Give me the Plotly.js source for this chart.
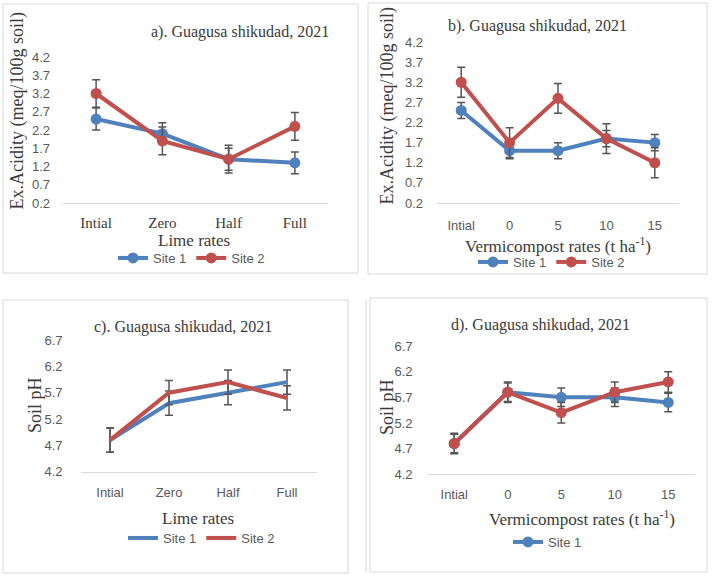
<!DOCTYPE html>
<html>
<head>
<meta charset="utf-8">
<script src="https://cdn.plot.ly/plotly-3.0.1.min.js"></script>
<style>html,body{margin:0;padding:0;background:#fff;}#chart{width:714px;height:576px;}</style>
</head>
<body>
<div id="chart"></div>
<script>
// ---- Data ----
var limeRates = ['Intial', 'Zero', 'Half', 'Full'];
var vermiRates = ['Intial', '0', '5', '10', '15'];

var acidLimeSite1 = [2.5, 2.1, 1.4, 1.3];
var acidLimeSite1Err = [0.3, 0.3, 0.3, 0.3];
var acidLimeSite2 = [3.2, 1.9, 1.4, 2.3];
var acidLimeSite2Err = [0.38, 0.38, 0.38, 0.38];

var acidVermiSite1 = [2.5, 1.5, 1.5, 1.8, 1.7];
var acidVermiSite1Err = [0.2, 0.2, 0.2, 0.2, 0.2];
var acidVermiSite2 = [3.2, 1.7, 2.8, 1.8, 1.2];
var acidVermiSite2Err = [0.37, 0.37, 0.37, 0.37, 0.37];

var phLimeSite1 = [4.8, 5.5, 5.7, 5.9];
var phLimeSite1Err = [0.23, 0.23, 0.23, 0.23];
var phLimeSite2 = [4.8, 5.7, 5.9, 5.6];
var phLimeSite2Err = [0.23, 0.23, 0.23, 0.23];

var phVermiSite1 = [4.8, 5.8, 5.7, 5.7, 5.6];
var phVermiSite1Err = [0.18, 0.18, 0.18, 0.18, 0.18];
var phVermiSite2 = [4.8, 5.8, 5.4, 5.8, 6.0];
var phVermiSite2Err = [0.2, 0.2, 0.2, 0.2, 0.2];

var acidTicks = ['0.2', '0.7', '1.2', '1.7', '2.2', '2.7', '3.2', '3.7', '4.2'];
var phTicks = ['4.2', '4.7', '5.2', '5.7', '6.2', '6.7'];

// ---- Styling ----
var W = 714, H = 576;
var BLUE = '#4F81BD', RED = '#C0504D', ERR = '#555555';
var SANS = 'Liberation Sans, Arial, sans-serif';
var SERIF = 'Liberation Serif, Times New Roman, serif';
var TXT = '#3a3a3a', TICK = '#595959';

function px(x) { return x / W; }
function py(y) { return 1 - y / H; }

function tr(x, y, err, color, name, xa, ya, leg, markers, showleg) {
  return {
    type: 'scatter', x: x, y: y, name: name,
    xaxis: xa, yaxis: ya, legend: leg, showlegend: showleg,
    mode: markers ? 'lines+markers' : 'lines',
    line: {color: color, width: 4},
    marker: {color: color, size: 11},
    error_y: {type: 'data', array: err, visible: true, color: ERR, thickness: 1.5, width: 4}
  };
}

var data = [
  tr(limeRates, acidLimeSite1, acidLimeSite1Err, BLUE, 'Site 1', 'x', 'y', 'legend', true, true),
  tr(limeRates, acidLimeSite2, acidLimeSite2Err, RED, 'Site 2', 'x', 'y', 'legend', true, true),
  tr(vermiRates, acidVermiSite1, acidVermiSite1Err, BLUE, 'Site 1', 'x2', 'y2', 'legend2', true, true),
  tr(vermiRates, acidVermiSite2, acidVermiSite2Err, RED, 'Site 2', 'x2', 'y2', 'legend2', true, true),
  tr(limeRates, phLimeSite1, phLimeSite1Err, BLUE, 'Site 1', 'x3', 'y3', 'legend3', false, true),
  tr(limeRates, phLimeSite2, phLimeSite2Err, RED, 'Site 2', 'x3', 'y3', 'legend3', false, true),
  tr(vermiRates, phVermiSite1, phVermiSite1Err, BLUE, 'Site 1', 'x4', 'y4', 'legend4', true, true),
  tr(vermiRates, phVermiSite2, phVermiSite2Err, RED, 'Site 2', 'x4', 'y4', 'legend4', true, false)
];

function xax(domain, n, anchor, font, stand) {
  return {
    domain: domain, anchor: anchor, type: 'category', range: [-0.5, n - 0.5],
    showline: true, linecolor: '#d9d9d9', linewidth: 1, showgrid: false, zeroline: false,
    ticks: '', tickfont: font, ticklabelstandoff: stand, fixedrange: true
  };
}
function yax(domain, range, ticks, anchor, stand) {
  return {
    domain: domain, anchor: anchor, range: range,
    tickvals: ticks.map(Number), ticktext: ticks,
    showline: false, showgrid: false, zeroline: false, ticks: '',
    tickfont: {family: SANS, size: 13, color: TICK}, ticklabelstandoff: stand, fixedrange: true
  };
}

var sansTick = {family: SANS, size: 13, color: TICK};
var serifTick = {family: SERIF, size: 15, color: TXT};

function ann(text, x, y, size, angle) {
  return {
    text: text, xref: 'paper', yref: 'paper', x: px(x), y: py(y),
    xanchor: 'center', yanchor: 'middle', showarrow: false, textangle: angle || 0,
    font: {family: SERIF, size: size, color: TXT}
  };
}
function box(x0, y0, x1, y1) {
  return {type: 'rect', xref: 'paper', yref: 'paper', x0: px(x0), x1: px(x1), y0: py(y1), y1: py(y0),
    line: {color: '#d9d9d9', width: 1}, fillcolor: 'rgba(0,0,0,0)', layer: 'below'};
}
function leg(x, y) {
  return {orientation: 'h', x: px(x), y: py(y), xanchor: 'left', yanchor: 'middle',
    font: {family: SANS, size: 13, color: TICK}, bgcolor: 'rgba(0,0,0,0)', borderwidth: 0,
    itemwidth: 30, tracegroupgap: 0};
}

var layout = {
  width: W, height: H, margin: {l: 0, r: 0, t: 0, b: 0},
  paper_bgcolor: '#fff', plot_bgcolor: 'rgba(0,0,0,0)',
  xaxis: xax([px(63), px(328)], 4, 'y', serifTick, 6),
  yaxis: yax([py(203), py(57)], [0.2, 4.2], acidTicks, 'x', 12),
  xaxis2: xax([px(437), px(679)], 5, 'y2', sansTick, 10),
  yaxis2: yax([py(203), py(42)], [0.2, 4.2], acidTicks, 'x2', 13),
  xaxis3: xax([px(80.5), px(316.5)], 4, 'y3', sansTick, 9),
  yaxis3: yax([py(471.7), py(340)], [4.2, 6.7], phTicks, 'x3', 17),
  xaxis4: xax([px(427.5), px(695)], 5, 'y4', sansTick, 8),
  yaxis4: yax([py(474.3), py(346)], [4.2, 6.7], phTicks, 'x4', 14),
  legend: leg(113, 258),
  legend2: leg(473, 262),
  legend3: leg(123, 538),
  legend4: leg(508, 542),
  annotations: [
    ann('a). Guagusa shikudad, 2021', 240, 32, 16),
    ann('b). Guagusa shikudad, 2021', 537, 26, 16),
    ann('c). Guagusa shikudad, 2021', 183.5, 327, 16),
    ann('d). Guagusa shikudad, 2021', 540, 325, 16),
    ann('Ex.Acidity (meq/100g soil)', 17, 111.5, 18, -90),
    ann('Ex.Acidity (meq/100g soil)', 387, 106.5, 18, -90),
    ann('Soil pH', 35, 405, 18, -90),
    ann('Soil pH', 387, 407, 18, -90),
    ann('Lime rates', 194, 240, 17),
    ann('Vermicompost rates (t ha<sup>-1</sup>)', 558, 245, 17),
    ann('Lime rates', 198, 518, 17),
    ann('Vermicompost rates (t ha<sup>-1</sup>)', 582, 518, 17)
  ],
  shapes: [
    box(3, 4, 358, 273),
    box(368, 3, 707, 274),
    box(3, 300, 348, 573),
    box(370, 298, 707, 572),
    {type: 'line', xref: 'paper', yref: 'paper', x0: px(366), x1: px(366), y0: py(573), y1: py(300),
      line: {color: '#d9d9d9', width: 1}, layer: 'below'}
  ]
};

Plotly.newPlot('chart', data, layout, {staticPlot: true, displayModeBar: false});
</script>
</body>
</html>
